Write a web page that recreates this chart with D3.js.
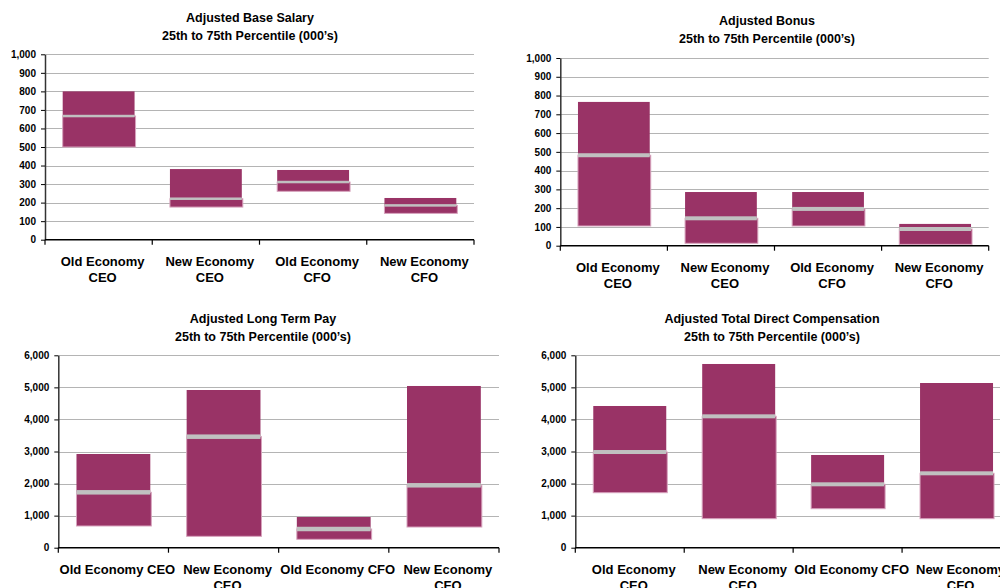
<!DOCTYPE html>
<html>
<head>
<meta charset="utf-8">
<title>Compensation ranges</title>
<script src="https://cdn.jsdelivr.net/npm/d3@7"></script>
<style>
  body { margin: 0; background: #fff; }
  svg text { font-family: Arial, "Liberation Sans", sans-serif; font-weight: bold; fill: #000; }
</style>
</head>
<body>
<svg id="chart" width="1000" height="588"></svg>
<script>
// categories and tick labels
const categories = ["Old Economy CEO", "New Economy CEO", "Old Economy CFO", "New Economy CFO"];
const labelsTwoLine = [["Old Economy", "CEO"], ["New Economy", "CEO"], ["Old Economy", "CFO"], ["New Economy", "CFO"]];
const labelsLtp = [["Old Economy CEO"], ["New Economy", "CEO"], ["Old Economy CFO"], ["New Economy", "CFO"]];
const labelsTdc = [["Old Economy", "CEO"], ["New Economy", "CEO"], ["Old Economy CFO"], ["New Economy", "CFO"]];
const ticksSmall = [0, 100, 200, 300, 400, 500, 600, 700, 800, 900, 1000];
const ticksLarge = [0, 1000, 2000, 3000, 4000, 5000, 6000];

// 25th, median, 75th percentile (000's)
const baseP25 = [500, 176, 261, 142];
const baseMed = [667, 221, 311, 185];
const baseP75 = [800, 381, 376, 225];

const bonusP25 = [105, 13, 105, 7];
const bonusMed = [482, 146, 196, 89];
const bonusP75 = [766, 286, 286, 116];

const ltpP25 = [677, 355, 262, 645];
const ltpMed = [1727, 3462, 583, 1946];
const ltpP75 = [2922, 4918, 957, 5043];

const tdcP25 = [1715, 905, 1216, 905];
const tdcMed = [2984, 4097, 1977, 2320];
const tdcP75 = [4419, 5729, 2891, 5136];

const panels = [
  {title: "Adjusted Base Salary", p25: baseP25, med: baseMed, p75: baseP75, ticks: ticksSmall, labels: labelsTwoLine,
   left: 45, right: 474, top: 54.3, bottom: 239.7, titleX: 250, titleY: 18, labelY: 261, medH: 2.5},
  {title: "Adjusted Bonus", p25: bonusP25, med: bonusMed, p75: bonusP75, ticks: ticksSmall, labels: labelsTwoLine,
   left: 560.3, right: 988.7, top: 58, bottom: 245.7, titleX: 767, titleY: 21, labelY: 267, medH: 4},
  {title: "Adjusted Long Term Pay", p25: ltpP25, med: ltpMed, p75: ltpP75, ticks: ticksLarge, labels: labelsLtp,
   left: 58.3, right: 499, top: 355.3, bottom: 547.7, titleX: 263, titleY: 319, labelY: 569, medH: 4.5},
  {title: "Adjusted Total Direct Compensation", p25: tdcP25, med: tdcMed, p75: tdcP75, ticks: ticksLarge, labels: labelsTdc,
   left: 575.3, right: 1011, top: 355.3, bottom: 547.7, titleX: 772, titleY: 319, labelY: 569, medH: 4}
];

const svg = d3.select("#chart");
const fmt = d3.format(",");

panels.forEach(function(p) {
  const g = svg.append("g");
  const ticks = p.ticks;
  const y = d3.scaleLinear().domain([0, d3.max(ticks)]).range([p.bottom, p.top]);
  const x = d3.scaleBand().domain(categories).range([p.left, p.right]).paddingInner(0.33).paddingOuter(0.165);
  const xb = d3.scaleBand().domain(categories).range([p.left, p.right]);

  // title
  g.append("text").attr("x", p.titleX).attr("y", p.titleY).attr("dy", "0.35em")
    .attr("text-anchor", "middle").style("font-size", "12.5px").text(p.title);
  g.append("text").attr("x", p.titleX).attr("y", p.titleY + 18).attr("dy", "0.35em")
    .attr("text-anchor", "middle").style("font-size", "12.5px").text("25th to 75th Percentile (000\u2019s)");

  // gridlines
  g.selectAll(".grid").data(ticks.filter(t => t > 0)).join("line")
    .attr("x1", p.left).attr("x2", p.right)
    .attr("y1", d => Math.round(y(d)) + 0.5).attr("y2", d => Math.round(y(d)) + 0.5)
    .attr("stroke", "#b4b4b4").attr("stroke-width", 1.2);

  // bars: lower part 25th->median, upper part median->75th
  const rows = categories.map((c, i) => ({cat: c, p25: p.p25[i], med: p.med[i], p75: p.p75[i]}));
  g.selectAll(".upper").data(rows).join("rect")
    .attr("x", d => x(d.cat)).attr("width", x.bandwidth())
    .attr("y", d => y(d.p75)).attr("height", d => y(d.med) - y(d.p75))
    .attr("fill", "#993366");
  g.selectAll(".lower").data(rows).join("rect")
    .attr("x", d => x(d.cat)).attr("width", x.bandwidth() + 1)
    .attr("y", d => y(d.med)).attr("height", d => y(d.p25) - y(d.med))
    .attr("fill", "#993366").attr("stroke", "#d7a3bd").attr("stroke-width", 1);
  g.selectAll(".median").data(rows).join("rect")
    .attr("x", d => x(d.cat)).attr("width", x.bandwidth())
    .attr("y", d => y(d.med) - p.medH / 2).attr("height", p.medH)
    .attr("fill", "#c0c0c0");

  // y axis
  const yAxis = g.append("g").attr("transform", `translate(${p.left},0)`)
    .call(d3.axisLeft(y).tickValues(ticks).tickFormat(fmt).tickSize(4).tickPadding(5).tickSizeOuter(0));
  yAxis.select(".domain").attr("stroke", "#333").attr("stroke-width", 1.5);
  yAxis.selectAll(".tick line").attr("stroke", "#000");
  yAxis.selectAll("text").style("font-size", "10px").style("font-family", "Arial, 'Liberation Sans', sans-serif")
    .style("font-weight", "bold");

  // x axis line and tick marks at category boundaries
  g.append("line").attr("x1", p.left).attr("x2", p.right)
    .attr("y1", p.bottom).attr("y2", p.bottom).attr("stroke", "#000").attr("stroke-width", 1.5);
  const bounds = categories.map(c => xb(c)).concat([p.right]);
  g.selectAll(".xtick").data(bounds).join("line")
    .attr("x1", d => d).attr("x2", d => d)
    .attr("y1", p.bottom).attr("y2", p.bottom + 5)
    .attr("stroke", "#000").attr("stroke-width", 1.2);

  // category labels (Excel draws them a few pixels right of the band centre)
  categories.forEach(function(c, i) {
    const cx = xb(c) + xb.bandwidth() / 2 + 4;
    const t = g.append("text").attr("x", cx).attr("y", p.labelY)
      .attr("dy", "0.35em").attr("text-anchor", "middle").style("font-size", "13px");
    p.labels[i].forEach(function(line, k) {
      t.append("tspan").attr("x", cx).attr("dy", k === 0 ? "0.35em" : "1.3em").text(line);
    });
  });
});
</script>
</body>
</html>
